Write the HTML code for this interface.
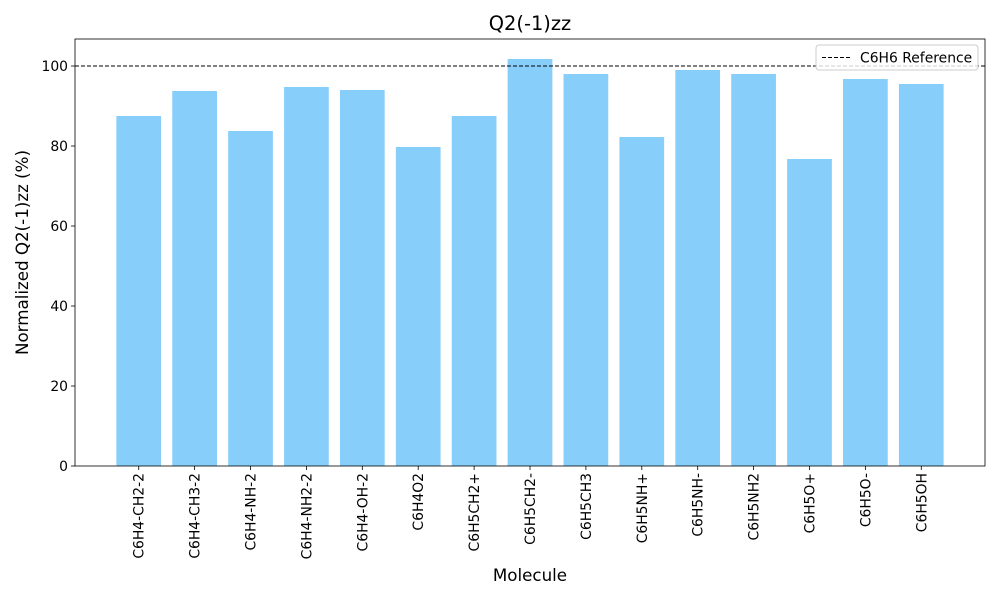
<!DOCTYPE html>
<html><head><meta charset="utf-8"><style>
body{margin:0;background:#fff;font-family:"Liberation Sans","DejaVu Sans",sans-serif}
svg text{font-family:"DejaVu Sans","Liberation Sans",sans-serif}
</style></head><body>
<svg id="chart" width="1000" height="600" xmlns="http://www.w3.org/2000/svg"></svg>
<script>
const categories=["C6H4-CH2-2","C6H4-CH3-2","C6H4-NH-2","C6H4-NH2-2","C6H4-OH-2","C6H4O2","C6H5CH2+","C6H5CH2-","C6H5CH3","C6H5NH+","C6H5NH-","C6H5NH2","C6H5O+","C6H5O-","C6H5OH"];
const values=[87.5,93.75,83.75,94.75,94,79.75,87.5,101.75,98,82.25,99,98,76.75,96.75,95.5];
const yTicks=[0,20,40,60,80,100];
const refValue=100;
const NS="http://www.w3.org/2000/svg";
const svg=document.getElementById('chart');
const L=75,R=985,T=39,B=466;
const yMin=0,yMax=106.75;
const n=categories.length;
const xMin=-1.14,xMax=n-1+1.14;
const xs=i=>L+(i-xMin)/(xMax-xMin)*(R-L);
const ys=v=>B-(v-yMin)/(yMax-yMin)*(B-T);
const bw=0.8*(R-L)/(xMax-xMin);
function mk(tag,attrs,text){const e=document.createElementNS(NS,tag);for(const k in attrs)e.setAttribute(k,attrs[k]);if(text!==undefined)e.textContent=text;svg.appendChild(e);return e;}
values.forEach((v,i)=>{
 const r=mk('rect',{x:xs(i)-bw/2,y:ys(v),width:bw,height:ys(0)-ys(v),fill:'#87cefa'});
 
 
 const t=mk('line',{x1:xs(i),x2:xs(i),y1:B,y2:B+4,stroke:'#000','stroke-width':0.8});
 
 
 const tx=xs(i)+5, ty=B+7;
 const lb=mk('text',{x:tx,y:ty,'font-size':13.9,'text-anchor':'end',transform:`rotate(-90 ${tx} ${ty})`},categories[i]);
 
 
});
yTicks.forEach(v=>{
 const t=mk('line',{x1:L-4,x2:L,y1:ys(v),y2:ys(v),stroke:'#000','stroke-width':0.8});
 
 
 const lb=mk('text',{x:L-7,y:ys(v)+5,'font-size':13.9,'text-anchor':'end'},v);
 
 
});
const ref=mk('line',{x1:L,x2:R,y1:ys(refValue),y2:ys(refValue),stroke:'#000','stroke-width':1,'stroke-dasharray':'4,2'});


const frame=mk('rect',{x:L,y:T,width:R-L,height:B-T,fill:'none',stroke:'#000','stroke-width':0.8});


const lg=mk('rect',{x:816,y:45,width:162,height:25,rx:3,fill:'#fff','fill-opacity':0.8,stroke:'#ccc'});


const ll=mk('line',{x1:822,x2:850,y1:57.5,y2:57.5,stroke:'#000','stroke-width':1,'stroke-dasharray':'4,2'});


const lt=mk('text',{x:860,y:62.5,'font-size':13.9},'C6H6 Reference');


const title=mk('text',{x:(L+R)/2,y:30,'font-size':19.4,'text-anchor':'middle'},'Q2(-1)zz');


const xt=mk('text',{x:(L+R)/2,y:581,'font-size':16.7,'text-anchor':'middle'},'Molecule');


const yt=mk('text',{x:28,y:(T+B)/2,'font-size':16.7,'text-anchor':'middle',transform:`rotate(-90 28 ${(T+B)/2})`},'Normalized Q2(-1)zz (%)');


</script>
</body></html>
